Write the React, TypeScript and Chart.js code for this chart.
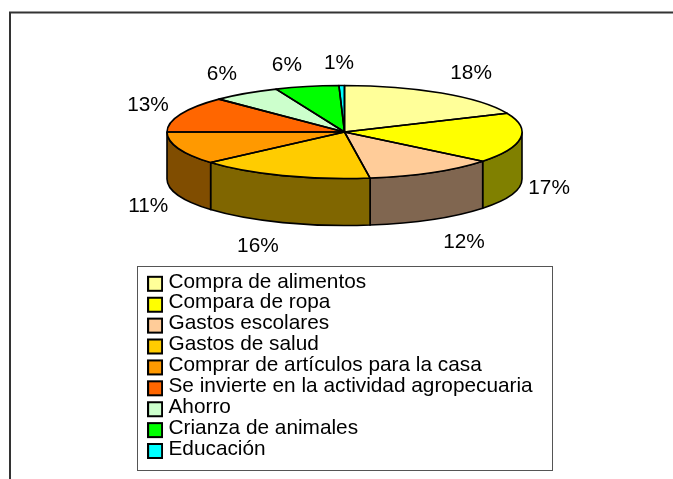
import React, { useEffect, useRef } from "react";
import { Chart, registerables } from "chart.js";

Chart.register(...registerables);

const categories = [
  "Compra de alimentos",
  "Compara de ropa",
  "Gastos escolares",
  "Gastos de salud",
  "Comprar de artículos para la casa",
  "Se invierte en la actividad agropecuaria",
  "Ahorro",
  "Crianza de animales",
  "Educación",
];
const percentages = [18.4, 17.4, 11.9, 15.9, 11.4, 12.5, 6.2, 5.8, 0.5];
const sliceColors = ["#FFFF99", "#FFFF00", "#FFCC99", "#FFCC00", "#FF9900", "#FF6600", "#CCFFCC", "#00FF00", "#00FFFF"];
const sideColors = ["#808000", "#808000", "#806650", "#806600", "#804D00", "#803300", "#668066", "#008000", "#008080"];
const labelNudges: [number, number][] = [
  [29.6, -19.5], [28.6, 3.4], [31.5, 22.6], [-24.9, 23.4], [-30, 10.7], [-32.5, -8.7], [-23.8, -19.4], [-20, -21.1], [-2.7, -22.5],
];

const FONT = '"Liberation Sans", Arial, sans-serif';
const RX = 177.5;
const RY = 46.5;
const DEPTH = 47;

function legendSwatch(color: string) {
  const c = document.createElement("canvas");
  c.width = 16;
  c.height = 24;
  const g = c.getContext("2d") as CanvasRenderingContext2D;
  g.fillStyle = color;
  g.fillRect(1, 7, 14, 14);
  g.strokeStyle = "#000";
  g.lineWidth = 2;
  g.strokeRect(1, 7, 14, 14);
  return c;
}

const pie3d = {
  id: "pie3d",
  beforeDraw(chart: any) {
    const { ctx, width, height } = chart;
    ctx.save();
    ctx.fillStyle = "#fff";
    ctx.fillRect(0, 0, width, height);
    ctx.strokeStyle = "#333";
    ctx.lineWidth = 2;
    ctx.beginPath();
    ctx.moveTo(10, height + 2);
    ctx.lineTo(10, 12.5);
    ctx.lineTo(width + 2, 12.5);
    ctx.stroke();
    ctx.strokeStyle = "#555";
    ctx.lineWidth = 1;
    ctx.strokeRect(137.5, 266.5, 415, 204);
    ctx.restore();
  },
  afterLayout(chart: any) {
    const lg = chart.legend;
    lg.left = 152;
    lg.right = 552;
    lg.top = 271.3;
    lg.bottom = 470;
    // the swatches overhang the text column, so draw without the legend's clip box
    lg.draw = () => lg._draw();
  },
  beforeDatasetsDraw(chart: any) {
    const { ctx } = chart;
    const arcs = chart.getDatasetMeta(0).data;
    ctx.save();
    arcs.forEach((arc: any, i: number) => {
      const lo = Math.max(arc.startAngle, 0);
      const hi = Math.min(arc.endAngle, Math.PI);
      if (lo >= hi) return;
      ctx.beginPath();
      ctx.ellipse(arc.x, arc.y, RX, RY, 0, lo, hi);
      ctx.lineTo(arc.x + RX * Math.cos(hi), arc.y + RY * Math.sin(hi) + DEPTH);
      ctx.ellipse(arc.x, arc.y + DEPTH, RX, RY, 0, hi, lo, true);
      ctx.closePath();
      ctx.fillStyle = sideColors[i];
      ctx.fill();
      ctx.strokeStyle = "#000";
      ctx.lineWidth = 1.6;
      ctx.stroke();
    });
    ctx.restore();
    const cy = arcs[0].y;
    ctx.save();
    ctx.translate(0, cy);
    ctx.scale(1, RY / RX);
    ctx.translate(0, -cy);
  },
  afterDatasetsDraw(chart: any) {
    const { ctx } = chart;
    ctx.restore();
    const arcs = chart.getDatasetMeta(0).data;
    ctx.save();
    ctx.strokeStyle = "#000";
    ctx.lineWidth = 1.6;
    ctx.lineJoin = "round";
    arcs.forEach((arc: any) => {
      ctx.beginPath();
      ctx.moveTo(arc.x, arc.y);
      ctx.ellipse(arc.x, arc.y, RX, RY, 0, arc.startAngle, arc.endAngle);
      ctx.closePath();
      ctx.stroke();
    });
    ctx.fillStyle = "#000";
    ctx.font = `20.8px ${FONT}`;
    ctx.textAlign = "center";
    ctx.textBaseline = "middle";
    arcs.forEach((arc: any, i: number) => {
      const mid = (arc.startAngle + arc.endAngle) / 2;
      const sin = Math.sin(mid);
      const px = arc.x + RX * Math.cos(mid);
      const py = arc.y + RY * sin + (sin > 0 ? DEPTH : 0);
      ctx.fillText(`${Math.round(percentages[i])}%`, px + labelNudges[i][0], py + labelNudges[i][1]);
    });
    ctx.restore();
  },
};

export default function App() {
  const ref = useRef<HTMLCanvasElement | null>(null);
  useEffect(() => {
    document.body.style.margin = "0";
    const swatches = sliceColors.map(legendSwatch);
    const chart = new Chart(ref.current as HTMLCanvasElement, {
      type: "pie",
      data: {
        labels: categories,
        datasets: [{ data: percentages, backgroundColor: sliceColors, borderWidth: 0, radius: RX }],
      },
      options: {
        responsive: false,
        animation: false,
        layout: { padding: { left: 16, right: 0, top: 0, bottom: 215 } },
        plugins: {
          tooltip: { enabled: false },
          legend: {
            position: "chartArea",
            align: "start",
            labels: {
              color: "#000",
              usePointStyle: true,
              pointStyleWidth: 6,
              boxHeight: 13,
              padding: 0.1,
              font: { family: FONT, size: 20.8, lineHeight: 1 },
              generateLabels: () =>
                categories.map((text, i) => ({
                  text,
                  fillStyle: sliceColors[i],
                  strokeStyle: "#000",
                  lineWidth: 0,
                  pointStyle: swatches[i],
                  index: i,
                  hidden: false,
                })),
            },
          },
        },
      } as any,
      plugins: [pie3d],
    });
    return () => chart.destroy();
  }, []);
  return <canvas ref={ref} width={673} height={479} style={{ display: "block" }} />;
}
